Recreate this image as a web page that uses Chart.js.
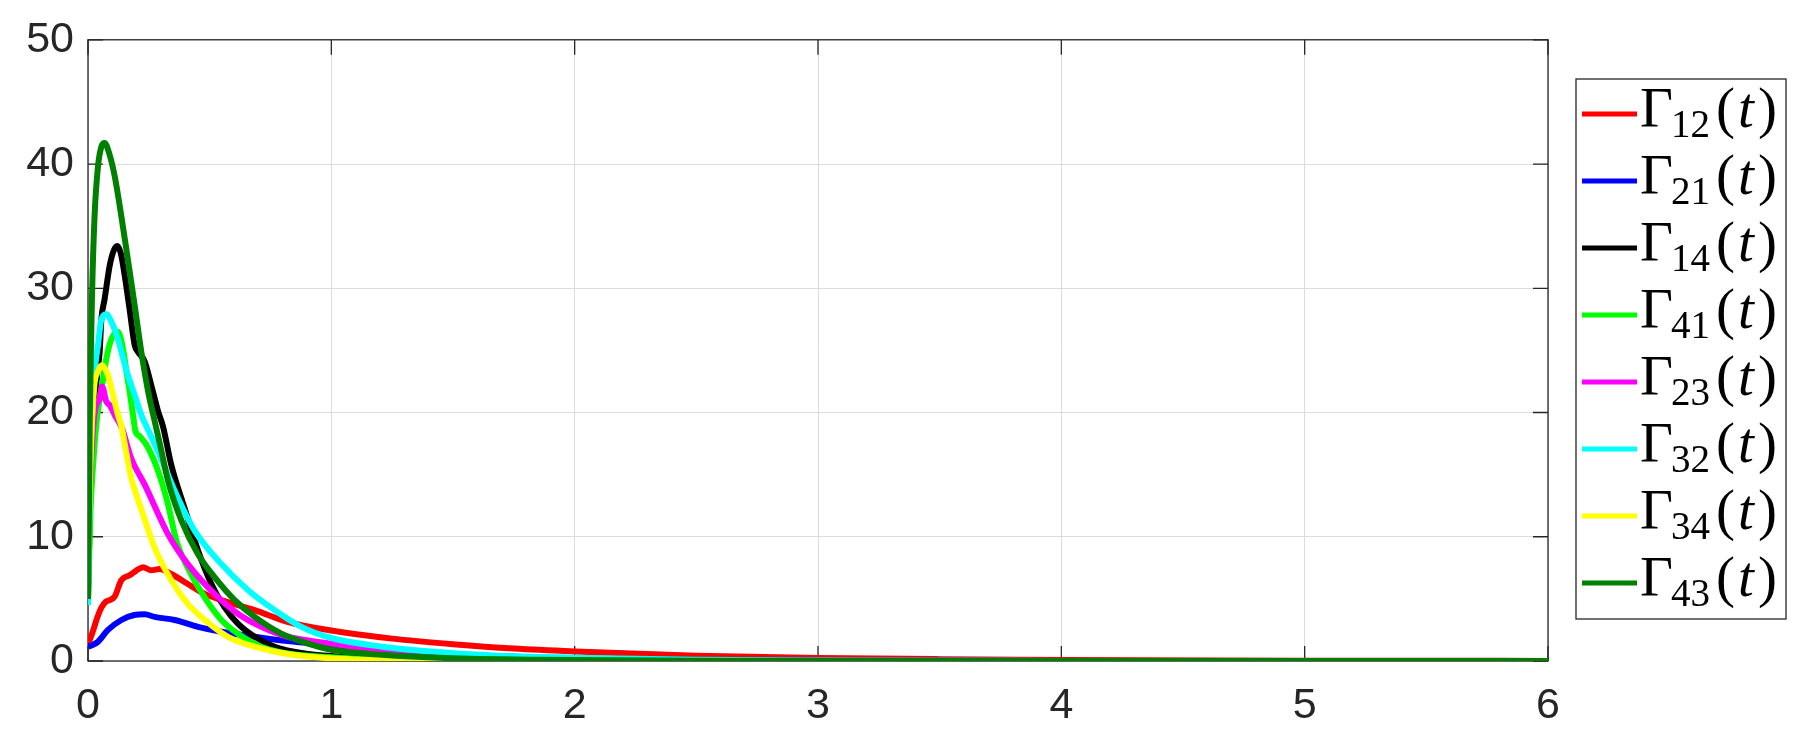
<!DOCTYPE html>
<html><head><meta charset="utf-8">
<script src="https://cdn.jsdelivr.net/npm/chart.js@4/dist/chart.umd.min.js"></script>
<style>html,body{margin:0;padding:0;background:#fff;overflow:hidden}</style>
</head><body>
<canvas id="c" width="1810" height="748"></canvas>
<script>
// ---- tick labels ----
const xTicks = [0, 1, 2, 3, 4, 5, 6];
const yTicks = [0, 10, 20, 30, 40, 50];

// ---- series names (subscripts of Gamma) and colours ----
const seriesSubs = ['12', '21', '14', '41', '23', '32', '34', '43'];
const seriesColors = ['#ff0000', '#0000ff', '#000000', '#00ff00', '#ff00ff', '#00ffff', '#ffff00', '#008000'];

// ---- series values (t, Gamma(t)) ----
const t12 = [0, 0.02, 0.04, 0.055, 0.075, 0.089, 0.11, 0.137, 0.171, 0.2, 0.226, 0.26, 0.295, 0.342, 0.41, 0.48, 0.548, 0.685, 0.82, 1.0, 1.25, 1.5, 1.75, 2.0, 2.5, 3.0, 3.5, 4.0, 5.0, 6.0];
const g12 = [1.3, 2.4, 3.6, 4.3, 4.8, 4.9, 5.2, 6.5, 6.9, 7.3, 7.55, 7.3, 7.4, 7.0, 6.2, 5.4, 4.9, 4.1, 3.15, 2.45, 1.8, 1.35, 1.0, 0.77, 0.43, 0.25, 0.15, 0.09, 0.03, 0.01];

const t21 = [0, 0.02, 0.041, 0.082, 0.137, 0.19, 0.233, 0.274, 0.356, 0.452, 0.548, 0.685, 0.82, 1.0, 1.2, 1.5, 1.66, 2.0, 2.5, 3.0, 4.0, 5.0, 6.0];
const g21 = [1.15, 1.3, 1.55, 2.5, 3.3, 3.7, 3.76, 3.55, 3.3, 2.75, 2.35, 1.95, 1.6, 1.3, 0.95, 0.55, 0.4, 0.22, 0.08, 0.03, 0.01, 0, 0];

const t14 = [0, 0.01, 0.025, 0.04, 0.048, 0.055, 0.068, 0.089, 0.105, 0.12, 0.135, 0.151, 0.171, 0.192, 0.205, 0.233, 0.26, 0.288, 0.308, 0.342, 0.397, 0.452, 0.507, 0.56, 0.616, 0.685, 0.767, 0.89, 1.0, 1.1, 1.3, 1.6, 2.0, 3.0, 6.0];
const g14 = [5, 14, 20, 23.5, 24.9, 27.5, 29.1, 31.8, 33.0, 33.4, 32.8, 31, 28.3, 25.4, 24.9, 24.1, 22.2, 20.1, 18.9, 15.8, 12.3, 8.9, 6.2, 4.35, 3.0, 1.95, 1.15, 0.6, 0.4, 0.24, 0.1, 0.04, 0.01, 0, 0];

const t41 = [0, 0.01, 0.02, 0.034, 0.048, 0.062, 0.075, 0.096, 0.123, 0.144, 0.158, 0.171, 0.185, 0.195, 0.212, 0.24, 0.288, 0.329, 0.363, 0.41, 0.48, 0.548, 0.616, 0.712, 0.82, 1.0, 1.3, 2.0, 6.0];
const g41 = [5, 12, 15.5, 19, 21.1, 22.7, 24.3, 25.9, 26.5, 25.1, 23.3, 21.7, 19.8, 18.5, 18.1, 17.4, 15.3, 12.6, 9.7, 7.5, 5.1, 3.3, 2.2, 1.15, 0.6, 0.3, 0.08, 0, 0];

const t23 = [0, 0.015, 0.03, 0.048, 0.058, 0.075, 0.089, 0.11, 0.14, 0.178, 0.233, 0.329, 0.41, 0.52, 0.616, 0.712, 0.82, 1.0, 1.2, 1.5, 1.84, 2.2, 3.0, 6.0];
const g23 = [10, 17, 20.3, 21.1, 22.1, 20.9, 20.6, 19.8, 18.7, 16.3, 14.2, 10.2, 7.8, 5.4, 3.8, 2.75, 1.95, 1.4, 0.85, 0.4, 0.16, 0.07, 0.01, 0];

const t32 = [0, 0.008, 0.02, 0.03, 0.041, 0.055, 0.075, 0.103, 0.123, 0.137, 0.164, 0.192, 0.219, 0.24, 0.28, 0.30, 0.37, 0.438, 0.548, 0.658, 0.767, 0.877, 1.0, 1.21, 1.49, 1.66, 2.0, 2.5, 3.0, 4.0, 6.0];
const g32 = [4.5, 15, 21, 23.8, 25.4, 27.5, 27.9, 27, 25.9, 24.9, 23, 21.4, 19.8, 18.9, 17.2, 16.3, 13.1, 10.5, 7.8, 5.7, 4.1, 2.75, 1.85, 1.15, 0.64, 0.45, 0.27, 0.1, 0.04, 0.01, 0];

const t34 = [0, 0.01, 0.025, 0.041, 0.058, 0.082, 0.103, 0.123, 0.137, 0.158, 0.178, 0.205, 0.226, 0.274, 0.342, 0.41, 0.48, 0.575, 0.685, 0.82, 1.01, 1.3, 2.0, 6.0];
const g34 = [8, 16, 22, 23.3, 23.8, 23, 21.4, 19.8, 18.9, 16.7, 14.7, 13.0, 11.8, 9.1, 6.5, 4.6, 3.3, 1.95, 1.15, 0.56, 0.2, 0.05, 0, 0];

const t43 = [0, 0.004, 0.007, 0.011, 0.016, 0.027, 0.041, 0.055, 0.068, 0.085, 0.11, 0.137, 0.164, 0.192, 0.219, 0.247, 0.274, 0.295, 0.329, 0.384, 0.452, 0.52, 0.603, 0.685, 0.795, 0.904, 1.01, 1.21, 1.47, 1.84, 2.5, 3.0, 6.0];
const g43 = [5, 12, 19, 23.8, 29, 35.8, 39.8, 41.4, 41.7, 41, 39, 35.8, 32.3, 28.6, 24.9, 21.7, 19.3, 17.5, 14.5, 11.3, 8.6, 6.75, 4.9, 3.55, 2.2, 1.4, 0.88, 0.5, 0.24, 0.1, 0.03, 0.01, 0];

const seriesT = [t12, t21, t14, t41, t23, t32, t34, t43];
const seriesV = [g12, g21, g14, g41, g23, g32, g34, g43];

const TICK_FONT = '"Liberation Sans", Arial, sans-serif';
const TICK_COLOR = '#262626';

const datasets = seriesSubs.map((s, i) => ({
  label: 'Γ' + s + '(t)',
  data: seriesT[i].map((t, k) => ({ x: t, y: seriesV[i][k] })),
  borderColor: seriesColors[i],
  backgroundColor: seriesColors[i],
  borderWidth: 6,
  pointRadius: 0,
  fill: false,
  cubicInterpolationMode: 'monotone',
  borderJoinStyle: 'round',
  order: seriesSubs.length - 1 - i
}));

const axesBox = {
  id: 'axesBox',
  beforeDatasetsDraw(chart) {
    const { ctx, chartArea: a, scales } = chart;
    const x = scales.x, y = scales.y;
    ctx.save();
    ctx.strokeStyle = TICK_COLOR;
    ctx.lineWidth = 1.3;
    ctx.strokeRect(a.left, a.top, a.right - a.left, a.bottom - a.top);
    const L = 15;
    ctx.beginPath();
    xTicks.forEach(v => {
      const px = x.getPixelForValue(v);
      ctx.moveTo(px, a.bottom); ctx.lineTo(px, a.bottom - L);
      ctx.moveTo(px, a.top); ctx.lineTo(px, a.top + L);
    });
    yTicks.forEach(v => {
      const py = y.getPixelForValue(v);
      ctx.moveTo(a.left, py); ctx.lineTo(a.left + L, py);
      ctx.moveTo(a.right, py); ctx.lineTo(a.right - L, py);
    });
    ctx.stroke();
    ctx.restore();
  }
};

const mathLegend = {
  id: 'mathLegend',
  afterDraw(chart) {
    const { ctx, chartArea: a } = chart;
    const boxL = a.right + 28, boxT = 79, boxW = 210, rowH = 67;
    const first = 35, n = seriesSubs.length;
    const boxH = first + (n - 1) * rowH + 36;
    ctx.save();
    ctx.fillStyle = '#ffffff';
    ctx.fillRect(boxL, boxT, boxW, boxH);
    ctx.strokeStyle = TICK_COLOR;
    ctx.lineWidth = 1.3;
    ctx.strokeRect(boxL, boxT, boxW, boxH);
    seriesSubs.forEach((s, i) => {
      const ly = boxT + first + i * rowH;
      ctx.strokeStyle = seriesColors[i];
      ctx.lineWidth = 5;
      ctx.beginPath();
      ctx.moveTo(boxL + 6, ly); ctx.lineTo(boxL + 61, ly);
      ctx.stroke();
      const base = ly + 13;
      ctx.fillStyle = '#000000';
      ctx.textBaseline = 'alphabetic';
      ctx.textAlign = 'left';
      ctx.font = '57px "Liberation Serif", serif';
      ctx.fillText('Γ', boxL + 64, base);
      ctx.font = '39px "Liberation Serif", serif';
      ctx.fillText(s, boxL + 95, base + 9.5);
      ctx.font = '57px "Liberation Serif", serif';
      ctx.fillText('(', boxL + 140, base);
      ctx.font = 'italic 57px "Liberation Serif", serif';
      ctx.fillText('t', boxL + 162, base);
      ctx.font = '57px "Liberation Serif", serif';
      ctx.fillText(')', boxL + 182, base);
    });
    ctx.restore();
  }
};

new Chart(document.getElementById('c'), {
  type: 'line',
  data: { datasets },
  plugins: [axesBox, mathLegend],
  options: {
    responsive: false,
    animation: false,
    layout: { padding: { left: 0, top: 36, right: 262, bottom: 0 } },
    plugins: { legend: { display: false }, tooltip: { enabled: false } },
    scales: {
      x: {
        type: 'linear', min: 0, max: 6,
        afterFit: s => { s.height = 87; },
        afterBuildTicks: s => { s.ticks = xTicks.map(v => ({ value: v })); },
        grid: { color: '#dcdcdc', lineWidth: 1, drawTicks: false },
        border: { display: false },
        ticks: { font: { family: TICK_FONT, size: 43 }, color: TICK_COLOR, padding: 19, maxRotation: 0 }
      },
      y: {
        type: 'linear', min: 0, max: 50,
        afterFit: s => { s.width = 88; },
        afterBuildTicks: s => { s.ticks = yTicks.map(v => ({ value: v })); },
        grid: { color: '#dcdcdc', lineWidth: 1, drawTicks: false },
        border: { display: false },
        ticks: { font: { family: TICK_FONT, size: 43 }, color: TICK_COLOR, padding: 14 }
      }
    }
  }
});
</script>
</body></html>
